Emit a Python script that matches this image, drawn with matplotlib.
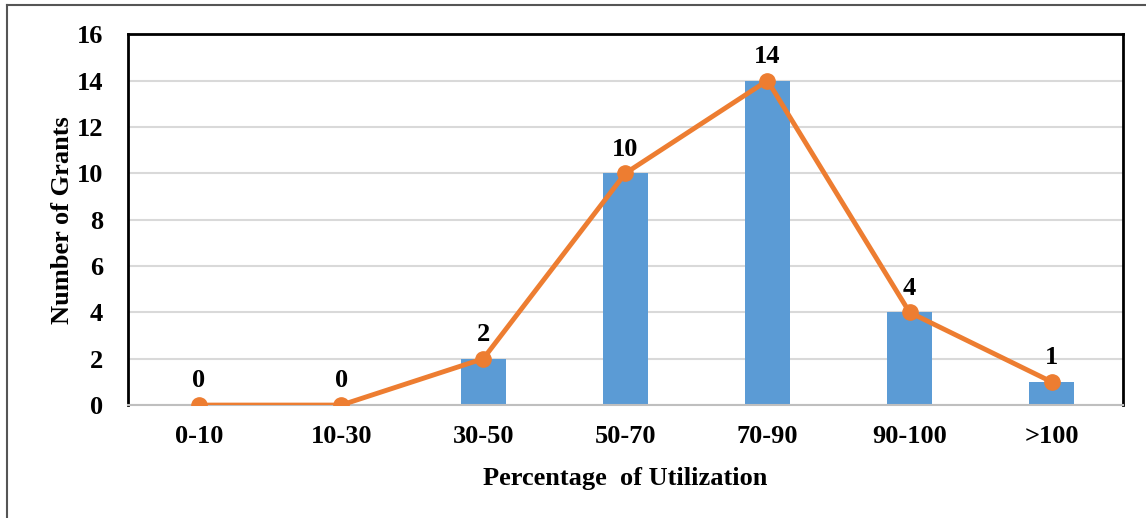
import matplotlib.pyplot as plt
from matplotlib.lines import Line2D

plt.rcParams['font.family'] = ['Liberation Serif', 'DejaVu Serif']
plt.rcParams['font.weight'] = 'bold'

categories = ['0-10', '10-30', '30-50', '50-70', '70-90', '90-100', '>100']
grants = [0, 0, 2, 10, 14, 4, 1]

fig = plt.figure(figsize=(11.46, 5.18), dpi=100)
ax = fig.add_axes([0.1117, 0.218, 0.868, 0.716])

x = range(len(categories))
ax.bar(x, grants, width=0.32, color='#5B9BD5', zorder=2)
ax.plot(x, grants, color='#ED7D31', lw=3.5, marker='o', markersize=11, zorder=3)

for xi, v in zip(x, grants):
    ax.text(xi, v + 0.55, str(v), ha='center', va='bottom', fontsize=19, fontweight='bold')

ax.set_xlim(-0.5, len(categories) - 0.5)
ax.set_ylim(0, 16)
ax.set_yticks(range(0, 17, 2))
ax.set_xticks(list(x))
ax.set_xticklabels(categories)
ax.tick_params(axis='both', labelsize=19, length=0)
ax.tick_params(axis='y', pad=18)
ax.tick_params(axis='x', pad=14)
ax.yaxis.grid(True, color='#d9d9d9', lw=1.5, zorder=0)
ax.set_axisbelow(True)

for side in ['left', 'top', 'right']:
    ax.spines[side].set_color('black')
    ax.spines[side].set_linewidth(2)
ax.spines['bottom'].set_color('#bfbfbf')
ax.spines['bottom'].set_linewidth(1.5)

ax.set_ylabel('Number of Grants', fontsize=19, fontweight='bold', labelpad=2)
ax.set_xlabel('Percentage  of Utilization', fontsize=19, fontweight='bold', labelpad=14)

# outer frame (left and top edges visible)
fig.add_artist(Line2D([0.0061, 0.0061], [0, 0.99], color='#555555', lw=1.5, transform=fig.transFigure))
fig.add_artist(Line2D([0.0061, 1], [0.99, 0.99], color='#555555', lw=1.5, transform=fig.transFigure))

fig.savefig('out.png', dpi=100)
